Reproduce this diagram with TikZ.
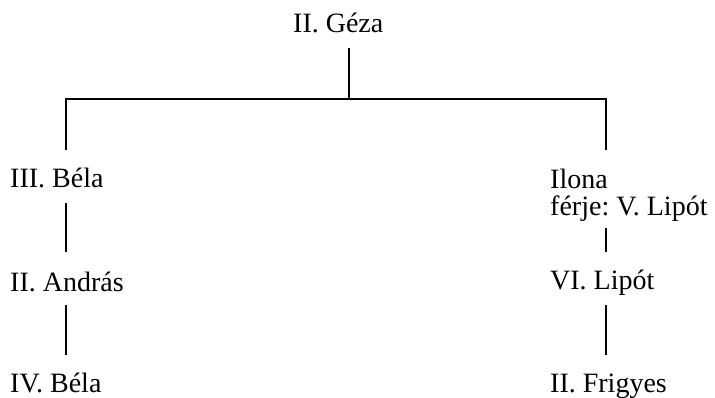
\documentclass[tikz,border=0pt]{standalone}
\usepackage{fontspec}
\setmainfont{Liberation Serif}
\begin{document}
\begin{tikzpicture}[x=1pt,y=-1pt,
  person/.style={anchor=base west,inner sep=0pt,align=left,font=\fontsize{28}{27}\selectfont\frenchspacing},
  link/.style={line width=1.6pt,line join=miter,line cap=butt}]
\useasboundingbox (0,0) rectangle (715,398);
% people
\node[person] (geza)   at (293,33)  {II. Géza};
\node[person] (bela3)  at (10,188)  {III. Béla};
\node[person] (andras) at (10,291)  {II. András};
\node[person] (bela4)  at (10,392)  {IV. Béla};
\node[person] (ilona)  at (550,216) {Ilona\\férje: V. Lipót};
\node[person] (lipot)  at (550,290) {VI. Lipót};
\node[person] (frigy)  at (550,392) {II. Frigyes};
% connector ends
\coordinate (g0) at (349,48);
\coordinate (g1) at (349,99);
\coordinate (l0) at (66,150);
\coordinate (l1) at (66,203);
\coordinate (l2) at (66,252);
\coordinate (l3) at (66,305);
\coordinate (l4) at (66,355);
\coordinate (r0) at (606,150);
\coordinate (r1) at (606,228);
\coordinate (r2) at (606,252);
\coordinate (r3) at (606,305);
\coordinate (r4) at (606,355);
% connectors
\draw[link] (g0) -- (g1);
\draw[link] (l0) -- (l0 |- g1) -- (r0 |- g1) -- (r0);
\draw[link] (l1) -- (l2);
\draw[link] (l3) -- (l4);
\draw[link] (r1) -- (r2);
\draw[link] (r3) -- (r4);
\end{tikzpicture}
\end{document}
